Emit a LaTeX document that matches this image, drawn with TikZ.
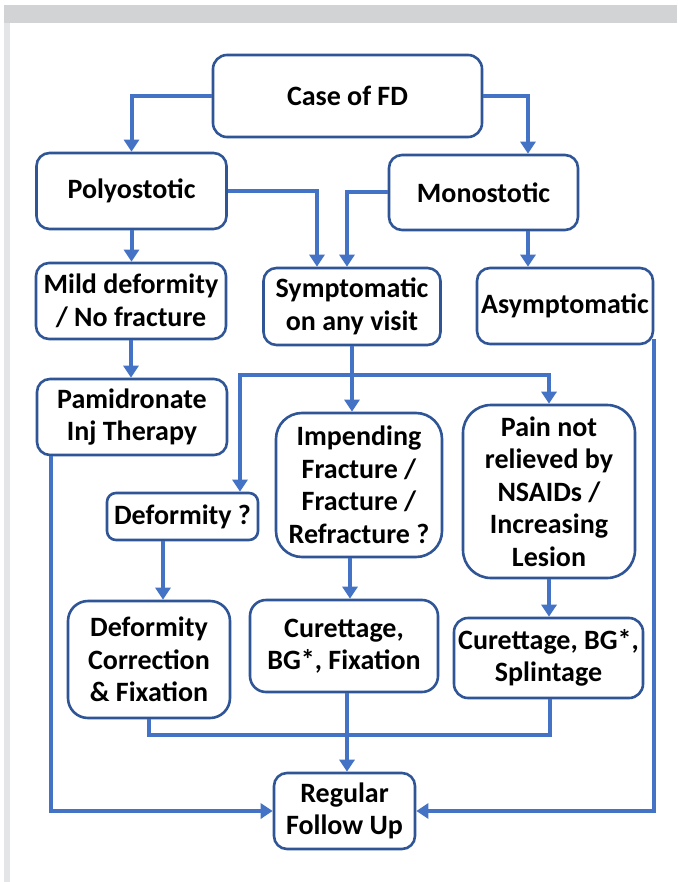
\documentclass[tikz,border=0pt]{standalone}
\usepackage{fontspec}
\setmainfont{Carlito}
\usetikzlibrary{arrows.meta,calc}
\definecolor{boxc}{HTML}{2F5597}
\definecolor{linec}{HTML}{4472C4}
\definecolor{framea}{HTML}{D2D3D5}
\definecolor{frameb}{HTML}{E4E5E7}
\tikzset{
  box/.style n args={3}{draw=boxc, line width=2.6pt, fill=white, align=center,
    inner sep=0pt, minimum width=#1, minimum height=#2, rounded corners=#3,
    font=\bfseries\fontsize{28}{32.5}\selectfont, text=black},
  conn/.style={draw=linec, line width=4pt, -{Triangle[width=15pt,length=12pt]}},
  plainline/.style={draw=linec, line width=4pt}
}
\begin{document}
\begin{tikzpicture}[x=1pt,y=-1pt]
\useasboundingbox (0,0) rectangle (677,882);
\fill[white] (0,0) rectangle (677,882);
\fill[framea] (4,5) rectangle (677,23);
\fill[frameb] (4,23) rectangle (10,882);

\node[box={269pt}{82pt}{14pt}] (fd) at (347.5,96) {Case of FD};
\node[box={190pt}{76pt}{13pt}] (poly) at (131.5,191) {Polyostotic};
\node[box={189pt}{75pt}{13pt}] (mono) at (483.5,192.5) {Monostotic};
\node[box={190pt}{76pt}{13pt}] (mild) at (131,301) {Mild deformity\\/ No fracture};
\node[box={177pt}{77pt}{13pt}] (sympt) at (352,306.5) {Symptomatic\\on any visit};
\node[box={176pt}{76pt}{13pt}] (asym) at (565,306) {Asymptomatic};
\node[box={190pt}{76pt}{13pt}] (pami) at (132,417) {Pamidronate\\Inj Therapy};
\node[box={151pt}{47pt}{9pt}] (defq) at (182.5,516.5) {Deformity ?};
\node[box={166pt}{144pt}{26pt}] (imp) at (359,485) {Impending\\Fracture /\\Fracture /\\Refracture ?};
\node[box={172pt}{173pt}{28pt}] (pain) at (549,491.5) {Pain not\\relieved by\\NSAIDs /\\Increasing\\Lesion};
\node[box={162pt}{117pt}{20pt}] (defc) at (149,659.5) {Deformity\\Correction\\\& Fixation};
\node[box={188pt}{92pt}{16pt}] (curf) at (344,646) {Curettage,\\BG*, Fixation};
\node[box={189pt}{80pt}{14pt}] (spl) at (548.5,658) {Curettage, BG*,\\Splintage};
\node[box={141pt}{76pt}{13pt}] (rfu) at (344.5,811) {Regular\\Follow Up};

% top level
\draw[conn] (fd.west) -| (poly.north);
\draw[conn] (fd.east) -| ([xshift=44.5pt]mono.north);
\draw[conn] ([xshift=44.5pt]mono.south) -- ([xshift=44.5pt]mono.south |- asym.north);
\draw[conn] (poly.south) -- (poly.south |- mild.north);
\draw[conn] (mild.south) -- (mild.south |- pami.north);
\draw[conn] (poly.east) -| ([xshift=-35pt]sympt.north);
\draw[conn] (mono.west) -| ([xshift=-5pt]sympt.north);

% symptomatic branches
\coordinate (br) at ($(sympt.south)+(0,29)$);
\draw[conn] (sympt.south) -- (sympt.south |- imp.north);
\draw[conn] (br) -| ([xshift=57.5pt]defq.north);
\draw[conn] (br) -| (pain.north);
\draw[conn] ([xshift=-19.5pt]defq.south) -- ([xshift=-19.5pt]defq.south |- defc.north);
\draw[conn] ([xshift=-9pt]imp.south) -- ([xshift=-9pt]imp.south |- curf.north);
\draw[conn] (pain.south) -- (pain.south |- spl.north);

% merge to follow up
\coordinate (mg) at (347,735);
\draw[plainline] (defc.south) |- (mg) -| ([xshift=1.5pt]spl.south);
\draw[conn] ([xshift=3pt]curf.south) -- ([xshift=3pt]curf.south |- rfu.north);
\draw[conn] ([xshift=15pt]pami.south west) |- (rfu.west);
\draw[conn] ([yshift=6pt]asym.south east) |- (rfu.east);
\end{tikzpicture}
\end{document}
